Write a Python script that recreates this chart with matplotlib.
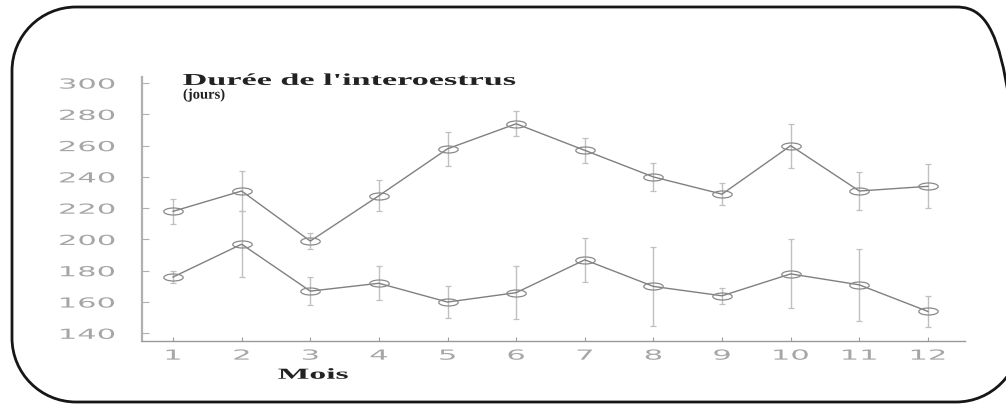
import matplotlib
matplotlib.use("Agg")
import matplotlib.pyplot as plt
from matplotlib.patheffects import AbstractPathEffect
from matplotlib.transforms import Affine2D
from matplotlib.path import Path
from matplotlib.patches import PathPatch

# Monthly mean inter-oestrus interval (days) with spread, two groups
months = list(range(1, 13))
month_labels = [str(m) for m in months]
y_ticks = [140, 160, 180, 200, 220, 240, 260, 280, 300]
y_tick_labels = [str(v) for v in y_ticks]

group_high = [218, 231, 199, 228, 258, 274, 257, 240, 229, 260, 231, 234]
group_high_err = [8, 13, 5, 10, 11, 8, 8, 9, 7, 14, 12, 14]
group_low = [176, 197, 167, 172, 160, 166, 187, 170, 164, 178, 171, 154]
group_low_err = [4, 21, 9, 11, 10, 17, 14, 25, 5, 22, 23, 10]

title_line1 = "Durée de l'interoestrus"
title_line2 = "(jours)"
x_label = "Mois"


class HStretch(AbstractPathEffect):
    """Widen glyphs horizontally around a chosen anchor of the ink box."""

    def __init__(self, sx, anchor="left"):
        super().__init__()
        self._sx = sx
        self._anchor = anchor

    def draw_path(self, renderer, gc, tpath, affine, rgbFace=None):
        ext = tpath.get_extents()
        x0 = {"left": ext.x0,
              "center": 0.5 * (ext.x0 + ext.x1),
              "right": ext.x1}[self._anchor]
        widen = Affine2D().translate(-x0, 0).scale(self._sx, 1.0).translate(x0, 0)
        renderer.draw_path(gc, tpath, widen + affine, rgbFace)


def rounded_frame(x0, y0, x1, y1, r):
    """Closed rounded-rectangle path (corners drawn as quarter arcs)."""
    k = 0.5523 * r
    verts = [
        (x0 + r, y0), (x1 - r, y0),
        (x1 - r + k, y0), (x1, y0 + r - k), (x1, y0 + r),
        (x1, y1 - r),
        (x1, y1 - r + k), (x1 - r + k, y1), (x1 - r, y1),
        (x0 + r, y1),
        (x0 + r - k, y1), (x0, y1 - r + k), (x0, y1 - r),
        (x0, y0 + r),
        (x0, y0 + r - k), (x0 + r - k, y0), (x0 + r, y0),
    ]
    codes = [Path.MOVETO, Path.LINETO,
             Path.CURVE4, Path.CURVE4, Path.CURVE4,
             Path.LINETO,
             Path.CURVE4, Path.CURVE4, Path.CURVE4,
             Path.LINETO,
             Path.CURVE4, Path.CURVE4, Path.CURVE4,
             Path.LINETO,
             Path.CURVE4, Path.CURVE4, Path.CURVE4]
    return Path(verts, codes)


W, H = 1006, 405
fig = plt.figure(figsize=(W / 100, H / 100), dpi=100)
fig.patch.set_facecolor("white")

# rounded frame around the whole panel (pixel coordinates, y upward)
bg = fig.add_axes([0, 0, 1, 1])
bg.set_xlim(0, W)
bg.set_ylim(0, H)
bg.set_axis_off()
bg.add_patch(PathPatch(rounded_frame(12, 3, 1020, 398, 64),
                       fill=False, ec="#161616", lw=2.0))

ax = fig.add_axes([142 / W, 64 / H, 823 / W, 264 / H])
ax.patch.set_alpha(0)

ellipse = Path.unit_circle().transformed(Affine2D().scale(1.0, 0.36))

common = dict(fmt="-", marker=ellipse, markersize=14, mfc="none",
              mec="#8a8a8a", mew=0.9, color="#808080", lw=1.0,
              ecolor="#c0c0c0", elinewidth=1.0, capsize=2, capthick=0.8)
ax.errorbar(months, group_high, yerr=group_high_err, **common)
ax.errorbar(months, group_low, yerr=group_low_err, **common)

ax.set_xlim(0.548, 12.54)
ax.set_ylim(135.1, 303.9)

for side in ("top", "right"):
    ax.spines[side].set_visible(False)
ax.spines["left"].set_color("#b0b0b0")
ax.spines["left"].set_linewidth(1.6)
ax.spines["bottom"].set_color("#999999")
ax.spines["bottom"].set_linewidth(1.0)

ax.set_xticks(months, month_labels)
ax.set_yticks(y_ticks, y_tick_labels)
ax.tick_params(axis="y", direction="in", length=5, width=0.8, color="#b0b0b0",
               pad=19.5, labelsize=10, labelcolor="#a6a6a6")
ax.tick_params(axis="x", direction="in", length=3, width=0.8, color="#a0a0a0",
               pad=5.5, labelsize=10, labelcolor="#a6a6a6")
for lbl in ax.get_yticklabels():
    lbl.set_path_effects([HStretch(2.2, "right")])
for lbl in ax.get_xticklabels():
    lbl.set_path_effects([HStretch(2.2, "center")])

serif = "Liberation Serif"
ax.set_xlabel(x_label, family=serif, weight="bold", fontsize=11, color="#222222",
              path_effects=[HStretch(2.2, "center")])
ax.xaxis.set_label_coords((313 - 142) / 823, -0.105)

ax.text(0.0498, 0.970, title_line1, transform=ax.transAxes, family=serif,
        weight="bold", fontsize=12, color="#222222", ha="left", va="baseline",
        path_effects=[HStretch(2.05, "left")])
ax.text(0.0498, 0.918, title_line2, transform=ax.transAxes, family=serif,
        weight="bold", fontsize=10.5, color="#222222", ha="left", va="baseline",
        path_effects=[HStretch(1.0, "left")])

fig.savefig("out.png", dpi=100, facecolor="white")
